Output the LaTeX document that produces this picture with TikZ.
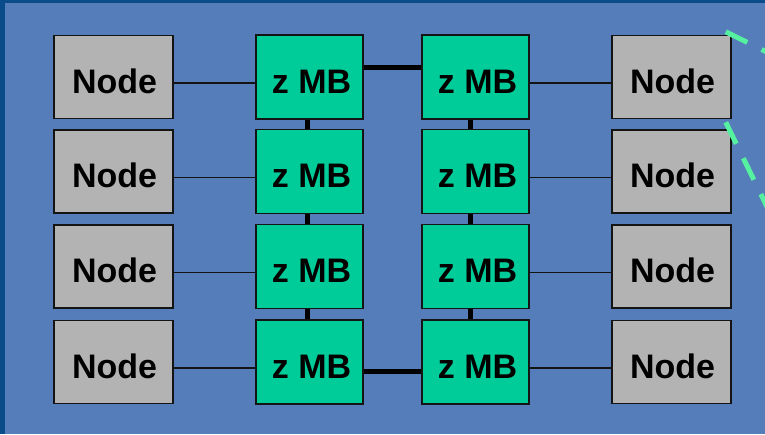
\documentclass[tikz,border=0pt]{standalone}
\usepackage{fontspec}
\setmainfont{Liberation Sans}
\definecolor{bgdark}{RGB}{10,76,138}
\definecolor{bgblue}{RGB}{85,125,185}
\definecolor{nodegray}{RGB}{179,179,179}
\definecolor{mbgreen}{RGB}{0,204,153}
\definecolor{dashgreen}{RGB}{85,240,160}
\definecolor{edge}{RGB}{20,20,20}
\tikzset{
  nodebox/.style={draw=edge, line width=1.5pt, fill=nodegray, minimum width=119pt, minimum height=83pt, inner sep=0pt,
    text height=32pt, text depth=0pt, font=\fontsize{34}{40}\selectfont\bfseries},
  mbbox/.style={draw=edge, line width=1.5pt, fill=mbgreen, minimum width=107pt, minimum height=84pt, inner sep=0pt,
    text height=32pt, text depth=0pt, font=\fontsize{34}{40}\selectfont\bfseries},
  thin/.style={draw=edge, line width=1.6pt},
  thick/.style={draw=black, line width=5pt},
  callout/.style={draw=dashgreen, line width=5pt, dash pattern=on 24pt off 16pt}
}
\begin{document}
\begin{tikzpicture}[x=1pt,y=-1pt]
\useasboundingbox (0,0) rectangle (765,434);
\fill[bgdark] (0,0) rectangle (765,434);
\fill[bgblue] (5,3) rectangle (765,434);
\foreach \i/\y in {1/77,2/171.5,3/266.5,4/362}{
  \node[nodebox] (L\i) at (113.5,\y) {\hspace*{2pt}Node};
  \node[mbbox] (A\i) at (309.5,\y) {\hspace*{4pt}z MB};
  \node[mbbox] (B\i) at (475.5,\y) {\hspace*{4pt}z MB};
  \node[nodebox] (R\i) at (671.5,\y) {\hspace*{2pt}Node};
  \draw[thin] ([yshift=-6pt]L\i.east) -- ([yshift=-6pt]A\i.west);
  \draw[thin] ([yshift=-6pt]B\i.east) -- ([yshift=-6pt]R\i.west);
}
\foreach \i/\j in {1/2,2/3,3/4}{
  \draw[thick] ([xshift=-2.5pt]A\i.south) -- ([xshift=-2.5pt]A\j.north);
  \draw[thick] ([xshift=-5.5pt]B\i.south) -- ([xshift=-5.5pt]B\j.north);
}
\draw[thick] ([yshift=10pt]A1.east) -- ([yshift=10pt]B1.west);
\draw[thick] ([yshift=-9pt]A4.east) -- ([yshift=-9pt]B4.west);
\begin{scope}
\clip (0,0) rectangle (765,434);
\coordinate (c1) at (805,71);
\coordinate (c2) at (792,258);
\draw[callout] ([xshift=-6pt,yshift=3pt]R1.north east) -- (c1);
\draw[callout] ([xshift=-6pt,yshift=-3pt]R1.south east) -- (c2);
\end{scope}
\end{tikzpicture}
\end{document}
